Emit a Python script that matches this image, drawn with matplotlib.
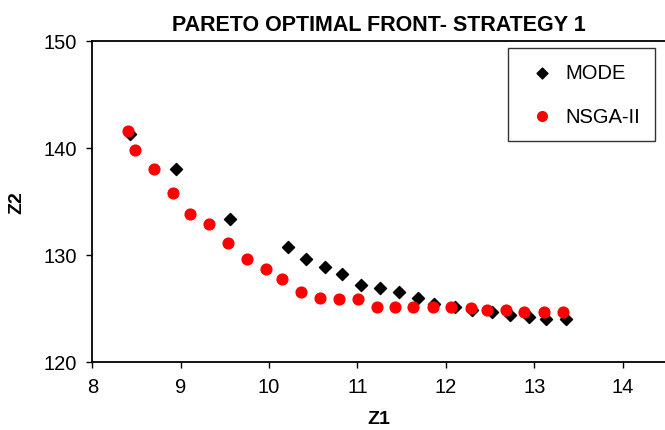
import matplotlib
matplotlib.use("Agg")
import matplotlib.pyplot as plt

plt.rcParams['font.family'] = ['Liberation Sans', 'DejaVu Sans']

# MODE front (black diamonds)
mode_z1 = [8.43, 8.95, 9.56, 10.21, 10.42, 10.63, 10.83, 11.04, 11.26, 11.47,
           11.68, 11.87, 12.10, 12.30, 12.52, 12.73, 12.94, 13.13, 13.36]
mode_z2 = [141.3, 138.0, 133.4, 130.7, 129.6, 128.9, 128.2, 127.2, 126.9, 126.5,
           126.0, 125.4, 125.1, 124.9, 124.7, 124.4, 124.2, 124.0, 124.0]

# NSGA-II front (red circles)
nsga_z1 = [8.40, 8.48, 8.70, 8.91, 9.10, 9.32, 9.53, 9.75, 9.96, 10.15,
           10.36, 10.58, 10.79, 11.01, 11.22, 11.42, 11.63, 11.85, 12.06, 12.28,
           12.47, 12.68, 12.89, 13.11, 13.33]
nsga_z2 = [141.6, 139.8, 138.0, 135.8, 133.8, 132.9, 131.1, 129.6, 128.7, 127.8,
           126.5, 126.0, 125.9, 125.9, 125.1, 125.1, 125.1, 125.1, 125.1, 125.0,
           124.9, 124.9, 124.7, 124.7, 124.7]

xticks = [8, 9, 10, 11, 12, 13, 14]
yticks = [120, 130, 140, 150]

fig = plt.figure(figsize=(6.65, 4.31), dpi=100)
ax = fig.add_axes([0.1388, 0.1578, 0.8612, 0.7448])

ax.scatter(mode_z1, mode_z2, marker='D', s=38, color='black', label='MODE', zorder=2)
ax.scatter(nsga_z1, nsga_z2, marker='o', s=60, color='#ff0000', label='NSGA-II', zorder=3)

ax.set_xlim(8, 14.48)
ax.set_ylim(120, 150)
ax.set_xticks(xticks)
ax.set_yticks(yticks)
ax.tick_params(labelsize=14.5, length=4, width=1, direction='out')
ax.tick_params(axis='x', pad=7)
ax.tick_params(axis='y', pad=7)
for side in ['left', 'bottom', 'top']:
    ax.spines[side].set_linewidth(1.3)
ax.spines['right'].set_visible(False)

ax.set_title('PARETO OPTIMAL FRONT- STRATEGY 1', fontsize=15.5, fontweight='bold', pad=8)
ax.set_xlabel('Z1', fontsize=14, fontweight='bold', labelpad=10)
ax.set_ylabel('Z2', fontsize=14, fontweight='bold', labelpad=13)

leg = ax.legend(loc='upper right', bbox_to_anchor=(0.9825, 0.977), fontsize=14.5,
                frameon=True, fancybox=False, edgecolor='black', labelspacing=1.2,
                handletextpad=0.2, borderpad=0.75, handlelength=1.9, markerscale=0.9,
                borderaxespad=0)
leg.get_frame().set_linewidth(1.0)

fig.savefig('out.png', dpi=100)
